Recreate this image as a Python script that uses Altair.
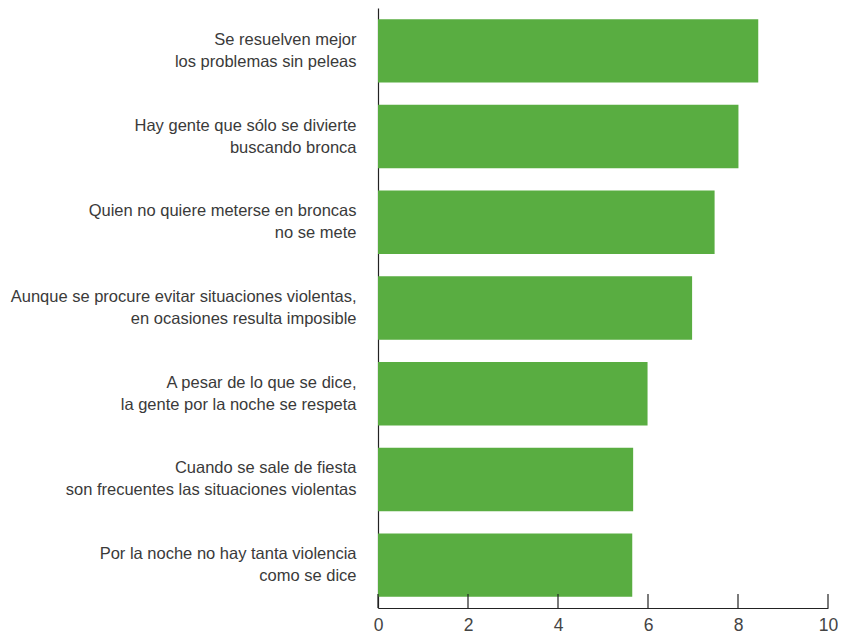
import altair as alt
import pandas as pd

labels = [
    "Se resuelven mejor|los problemas sin peleas",
    "Hay gente que sólo se divierte|buscando bronca",
    "Quien no quiere meterse en broncas|no se mete",
    "Aunque se procure evitar situaciones violentas,|en ocasiones resulta imposible",
    "A pesar de lo que se dice,|la gente por la noche se respeta",
    "Cuando se sale de fiesta|son frecuentes las situaciones violentas",
    "Por la noche no hay tanta violencia|como se dice",
]
values = [8.45, 8.01, 7.48, 6.98, 5.99, 5.67, 5.65]
ticks = [0, 2, 4, 6, 8, 10]

W = 450
H = 600
FONT = "Liberation Sans"

df = pd.DataFrame({"label": labels, "value": values})
tdf = pd.DataFrame({"t": ticks})

xscale = alt.Scale(domain=[0, 10], nice=False, zero=True)

bars = alt.Chart(df).mark_bar(color="#59ad41").encode(
    x=alt.X(
        "value:Q",
        scale=xscale,
        axis=alt.Axis(
            values=ticks, title=None, grid=False, ticks=False,
            domainColor="#222", domainWidth=1.2,
            labelFontSize=17.5, labelColor="#444", labelPadding=8,
            labelFont=FONT, labelFlush=False,
            labelOverlap=False,
        ),
    ),
    y=alt.Y(
        "label:N",
        sort=labels,
        scale=alt.Scale(paddingInner=0.26, paddingOuter=0.13),
        axis=alt.Axis(
            title=None, ticks=False, domainColor="#222", domainWidth=1.2,
            labelExpr="split(datum.label, '|')",
            labelFontSize=16.5, labelLineHeight=22, labelPadding=22,
            labelOffset=-11,
            labelLimit=0, labelColor="#3a3a3a", labelFont=FONT,
            labelAlign="right",
        ),
    ),
)

tick_marks = alt.Chart(tdf).mark_rule(color="#222", strokeWidth=1.2).encode(
    x=alt.X("t:Q", scale=xscale),
    y=alt.value(H - 14),
    y2=alt.value(H),
)

chart = alt.layer(bars, tick_marks).properties(
    width=W,
    height=H,
    padding={"left": 370, "top": 0, "right": 10, "bottom": 30},
    autosize=alt.AutoSizeParams(type="none"),
).configure_view(stroke="transparent")

chart.save("out.html", embed_options={"renderer": "svg", "actions": False})
